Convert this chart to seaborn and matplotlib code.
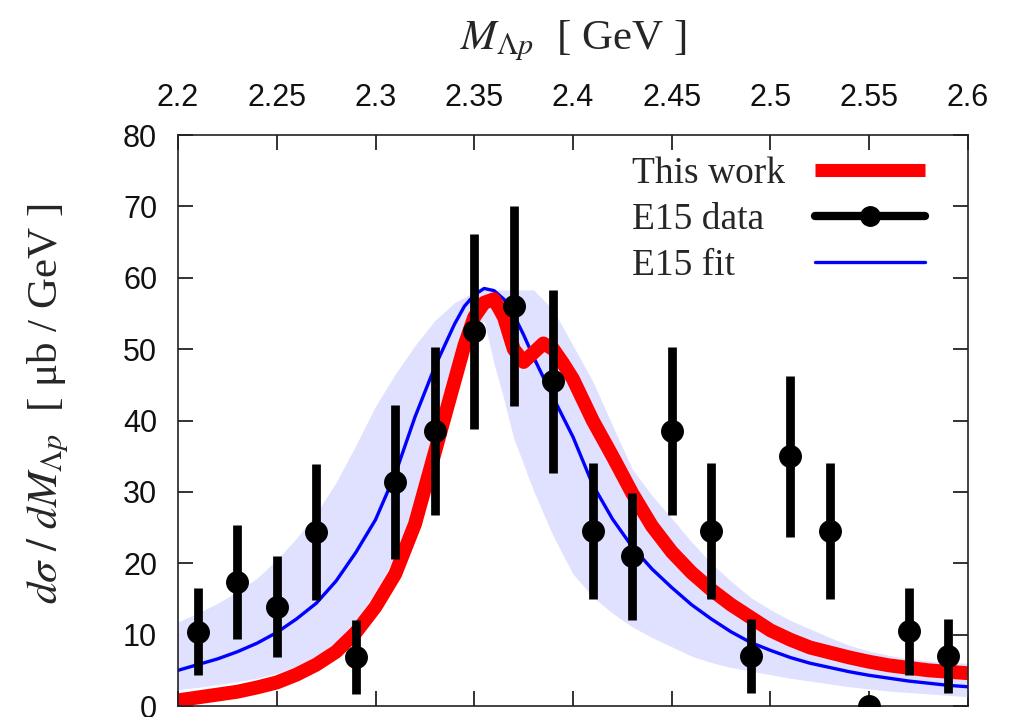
import matplotlib
matplotlib.use("Agg")
import matplotlib.pyplot as plt
import seaborn as sns
from matplotlib.lines import Line2D

# E15 data points (bin centres, cross section, error)
m_data = [2.21, 2.23, 2.25, 2.27, 2.29, 2.31, 2.33, 2.35, 2.37, 2.39,
          2.41, 2.43, 2.45, 2.47, 2.49, 2.51, 2.53, 2.55, 2.57, 2.59]
xs_data = [10.4, 17.4, 13.9, 24.4, 6.9, 31.4, 38.5, 52.5, 56.0, 45.5,
           24.5, 21.0, 38.5, 24.5, 7.0, 35.0, 24.5, 0.0, 10.5, 7.0]
xs_err = [6.1, 8.0, 7.1, 9.5, 5.2, 10.8, 11.8, 13.7, 14.0, 12.8,
          9.5, 8.9, 11.8, 9.5, 5.2, 11.3, 9.5, 0.0, 6.1, 5.2]

# E15 fit curve
m_fit = [2.20, 2.21, 2.22, 2.23, 2.24, 2.25, 2.26, 2.27, 2.28, 2.29,
         2.30, 2.31, 2.32, 2.33, 2.34, 2.345, 2.35, 2.355, 2.36, 2.365,
         2.37, 2.375, 2.38, 2.39, 2.40, 2.41, 2.42, 2.43, 2.44, 2.45,
         2.46, 2.47, 2.48, 2.49, 2.50, 2.51, 2.52, 2.53, 2.54, 2.55,
         2.56, 2.57, 2.58, 2.59, 2.60]
fit_e15 = [5.0, 5.8, 6.6, 7.6, 8.8, 10.3, 12.2, 14.4, 17.5, 21.5,
           26.1, 32.5, 40.5, 47.5, 53.5, 56.0, 57.6, 58.5, 58.2, 57.0,
           54.8, 52.0, 48.9, 43.2, 37.7, 31.0, 26.2, 22.3, 19.2, 16.6,
           14.2, 12.2, 10.4, 8.9, 7.8, 6.8, 6.0, 5.4, 4.8, 4.3,
           3.9, 3.5, 3.2, 2.9, 2.7]

# uncertainty band of the E15 fit
m_band = [2.20, 2.21, 2.22, 2.23, 2.24, 2.25, 2.26, 2.27, 2.28, 2.29,
          2.30, 2.31, 2.32, 2.33, 2.34, 2.35, 2.355, 2.36, 2.365, 2.37,
          2.38, 2.39, 2.40, 2.41, 2.42, 2.43, 2.44, 2.45, 2.46, 2.47,
          2.48, 2.49, 2.50, 2.51, 2.52, 2.53, 2.54, 2.55, 2.56, 2.57,
          2.58, 2.59, 2.60]
band_hi = [11.8, 13.0, 14.4, 16.0, 17.9, 20.5, 23.5, 27.0, 31.3, 36.5,
           42.0, 46.5, 50.5, 54.0, 56.5, 58.0, 58.2, 58.3, 58.3, 58.3,
           58.3, 55.5, 50.5, 45.5, 39.3, 33.2, 29.5, 26.3, 23.0, 20.0,
           17.5, 15.2, 13.5, 12.0, 10.8, 9.6, 8.5, 7.7, 7.1, 6.6,
           6.3, 6.1, 6.0]
band_lo = [2.3, 2.6, 3.0, 3.4, 3.9, 4.6, 5.5, 7.0, 9.0, 12.0,
           16.0, 21.0, 28.0, 37.0, 46.0, 53.0, 54.0, 48.0, 43.0, 37.5,
           30.2, 23.8, 18.5, 15.3, 13.0, 11.1, 9.6, 8.3, 7.0, 6.1,
           5.4, 4.9, 4.4, 3.9, 3.5, 3.1, 2.7, 2.4, 2.1, 1.9,
           1.7, 1.5, 1.3]

# this work
m_work = [2.20, 2.21, 2.22, 2.23, 2.24, 2.25, 2.26, 2.27, 2.28, 2.29,
          2.30, 2.31, 2.32, 2.33, 2.34, 2.345, 2.35, 2.355, 2.36, 2.365,
          2.37, 2.375, 2.38, 2.385, 2.39, 2.395, 2.40, 2.41, 2.42, 2.43,
          2.44, 2.45, 2.46, 2.47, 2.48, 2.49, 2.50, 2.51, 2.52, 2.53,
          2.54, 2.55, 2.56, 2.57, 2.58, 2.59, 2.60]
this_work = [0.8, 1.2, 1.6, 2.0, 2.6, 3.3, 4.4, 5.8, 7.6, 10.3,
             13.9, 18.5, 25.5, 35.5, 45.5, 50.5, 54.5, 56.5, 57.0, 54.5,
             50.0, 48.2, 49.5, 50.8, 50.0, 48.0, 45.8, 40.0, 35.0, 29.8,
             25.2, 21.6, 18.7, 16.3, 14.2, 12.4, 10.6, 9.3, 8.2, 7.5,
             6.8, 6.2, 5.7, 5.35, 5.0, 4.8, 4.6]

x_ticks = [2.2, 2.25, 2.3, 2.35, 2.4, 2.45, 2.5, 2.55, 2.6]
x_tick_labels = ["2.2", "2.25", "2.3", "2.35", "2.4", "2.45", "2.5", "2.55", "2.6"]
y_ticks = [0, 10, 20, 30, 40, 50, 60, 70, 80]

sns.set_style("ticks")
plt.rcParams['font.family'] = ['Liberation Sans', 'DejaVu Sans']
plt.rcParams['mathtext.fontset'] = 'stix'
serif = ['Liberation Serif', 'DejaVu Serif']

fig = plt.figure(figsize=(10.12, 7.17), dpi=100)
ax = fig.add_axes([0.1759, 0.0153, 0.7806, 0.7964])

ax.fill_between(m_band, band_lo, band_hi, color='#e0e0ff', lw=0)
sns.lineplot(x=m_fit, y=fit_e15, color='blue', lw=2.4, ax=ax, sort=False, errorbar=None)
sns.lineplot(x=m_work, y=this_work, color='red', lw=10, ax=ax, sort=False,
             errorbar=None, solid_capstyle='butt')
ax.errorbar(m_data, xs_data, yerr=xs_err, fmt='o', color='black', ms=15.5,
            elinewidth=6.3, capsize=0, zorder=5)

ax.set_xlim(2.2, 2.6)
ax.set_ylim(0, 80)
ax.set_xticks(x_ticks, x_tick_labels)
ax.set_yticks(y_ticks)
ax.xaxis.tick_top()
ax.tick_params(axis='both', direction='in', top=True, bottom=True, left=True, right=True,
               length=11, width=1.2, labelsize=22, colors='#111111')
ax.tick_params(axis='x', pad=16, labeltop=True, labelbottom=False)
ax.tick_params(axis='y', pad=15)
for s in ax.spines.values():
    s.set_linewidth(1.2)
    s.set_color('#222222')

ax.xaxis.set_label_position('top')
ax.set_xlabel(r'$M_{\Lambda p}$  [ GeV ]', fontsize=31, family=serif, labelpad=24)
ax.set_ylabel(r'$d\sigma\ /\ dM_{\Lambda p}$  [ μb / GeV ]', fontsize=31, family=serif)
ax.yaxis.set_label_coords(-0.135, 0.53)

# legend: labels on the left, line samples on the right
h_work = Line2D([], [], color='red', lw=9.4, solid_capstyle='butt')
h_data = Line2D([], [], color='black', lw=6, marker='o', ms=14)
h_fit = Line2D([], [], color='blue', lw=2.4)
blank = Line2D([], [], lw=0)
labels = ["This work", "E15 data", "E15 fit"]
leg_txt = ax.legend([blank, blank, blank], labels, loc='upper left',
                    bbox_to_anchor=(0.5747, 0.963), frameon=False, handlelength=0,
                    handletextpad=0, borderpad=0, borderaxespad=0, labelspacing=0.31,
                    prop={'family': serif, 'size': 27})
ax.add_artist(leg_txt)
ax.legend([h_work, h_data, h_fit], ["", "", ""], loc='upper right',
          bbox_to_anchor=(0.9456, 0.963), frameon=False, handlelength=2.94,
          handletextpad=0, borderpad=0, borderaxespad=0, labelspacing=0.31,
          prop={'family': serif, 'size': 27})

fig.savefig("out.png", dpi=100)
